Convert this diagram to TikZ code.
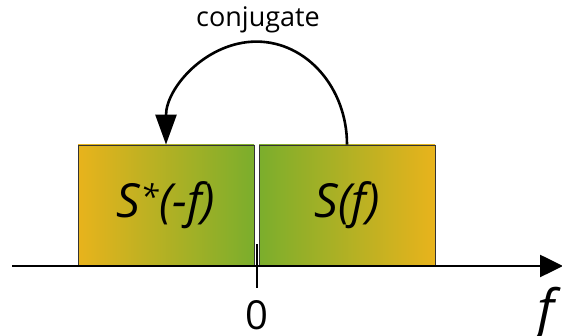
\documentclass[tikz,border=0pt]{standalone}
\usepackage{fontspec}
\setmainfont{Open Sans}
\usetikzlibrary{arrows.meta}

\definecolor{specorange}{RGB}{232,179,28}
\definecolor{specgreen}{RGB}{123,174,44}

\tikzset{
  specbox/.style={draw=black!80, line width=0.8pt, minimum width=176pt,
    minimum height=121pt, inner sep=0pt,
    font=\fontsize{47}{50}\selectfont\itshape},
}

\begin{document}
\begin{tikzpicture}[x=1pt, y=1pt, line width=2.6pt]
\useasboundingbox (0,0) rectangle (562,336);

\node[specbox, left color=specorange, right color=specgreen] (conj) at (166,130.5) {S\textsuperscript{*}(-f)};
\node[specbox, left color=specgreen, right color=specorange] (spec) at (347,130.5) {S(f)};

\coordinate (axl) at (12,70);
\coordinate (axr) at (563,70);
\draw[-{Triangle[length=23pt, width=22pt]}] (axl) -- (axr);
\draw[line width=1.3pt] (257,92) -- (257,48);
\node[font=\fontsize{40}{44}\selectfont, anchor=base, inner sep=0pt] (zero) at (257,6) {0};
\node[font=\fontsize{54}{60}\selectfont\itshape] (faxis) at (546,22) {f};

\draw[-{Triangle[length=30pt, width=21pt]}] (spec.north)
  arc[start angle=0, end angle=180, x radius=90.5pt, y radius=103pt];
\node[font=\fontsize{27}{30}\selectfont] (conjlbl) at (258,316) {conjugate};

\end{tikzpicture}
\end{document}
